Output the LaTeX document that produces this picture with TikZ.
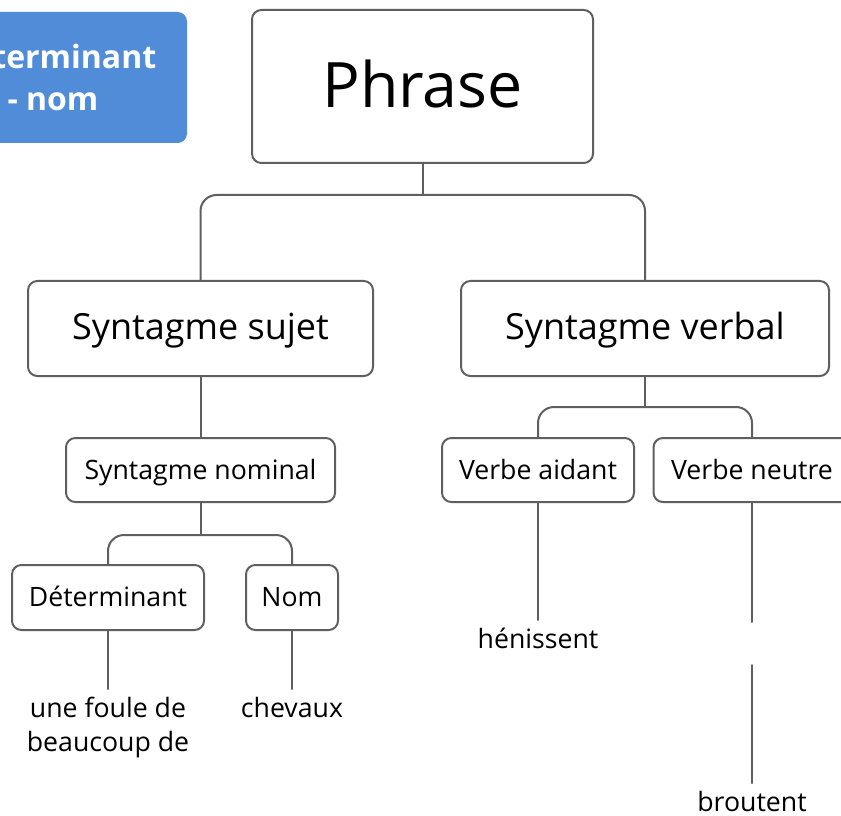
\documentclass[tikz,border=0pt]{standalone}
\usepackage{fontspec}
\setmainfont{Open Sans}
\definecolor{bleu}{RGB}{80,140,215}
\definecolor{trait}{RGB}{95,95,95}
\tikzset{
  boite/.style={draw=trait, line width=1.5pt, rounded corners=7pt, fill=white, inner sep=0pt},
  grand/.style={font=\fontsize{47}{56}\selectfont, text height=40pt, text depth=8pt},
  moyen/.style={font=\fontsize{27}{32}\selectfont, text height=20pt, text depth=2.8pt},
  petit/.style={font=\fontsize{20}{25}\selectfont},
  carre/.style={petit, text height=16pt, text depth=2.5pt},
  feuille/.style={petit, anchor=north, inner xsep=0pt, inner ysep=6pt, align=center},
  lien/.style={draw=trait, line width=1.5pt, rounded corners=12pt},
}
\begin{document}
\begin{tikzpicture}[x=0.75pt, y=-0.75pt, line join=round, line cap=round]
			\clip (0,0) rectangle (841,816);
			\path
			(0,195) coordinate (barA)
			(0,407) coordinate (barB)
			(0,535) coordinate (barC)
			(752,622) coordinate (coupeA)
			(752,665) coordinate (coupeB)
			;
			% legende
			\node[boite, draw=none, fill=bleu, text=white, align=center, minimum width=201pt, minimum height=98.25pt,
			font=\fontsize{24}{31.5}\bfseries\selectfont] (legende) at (53,77.5) {Déterminant\\- nom};
			% arbre
			\node[boite, grand, minimum width=255.75pt, minimum height=114.75pt] (phrase) at (422.5,86.5) {Phrase};
			\node[boite, moyen, minimum width=258.75pt, minimum height=71.25pt] (ssujet) at (200.5,328.5) {Syntagme sujet};
			\node[boite, moyen, minimum width=276pt, minimum height=71.25pt] (sverbal) at (645,328.5) {Syntagme verbal};
			\node[boite, carre, minimum width=201.75pt, minimum height=48pt] (snominal) at (200.5,470) {Syntagme nominal};
			\node[boite, carre, minimum width=144pt, minimum height=48pt] (vaidant) at (538,470) {Verbe aidant};
			\node[boite, carre, minimum width=147.75pt, minimum height=48pt] (vneutre) at (752,470) {Verbe neutre};
			\node[boite, carre, minimum width=144pt, minimum height=48.75pt] (deter) at (108,597.5) {Déterminant};
			\node[boite, carre, minimum width=69pt, minimum height=48.75pt] (nom) at (292,597.5) {Nom};
			% mots
			\node[feuille] (fdeter) at (108,689) {une foule de\\beaucoup de};
			\node[feuille] (fnom) at (292,689) {chevaux};
			\node[feuille] (faidant) at (538,620) {hénissent};
			\node[feuille] (fneutre) at (752,783) {broutent};
			% liens
			\draw[lien] (phrase.south) -- (phrase.south |- barA);
			\draw[lien] (ssujet.north) -- (ssujet.north |- barA) -- (sverbal.north |- barA) -- (sverbal.north);
			\draw[lien] (ssujet.south) -- (snominal.north);
			\draw[lien] (sverbal.south) -- (sverbal.south |- barB);
			\draw[lien] (vaidant.north) -- (vaidant.north |- barB) -- (vneutre.north |- barB) -- (vneutre.north);
			\draw[lien] (snominal.south) -- (snominal.south |- barC);
			\draw[lien] (deter.north) -- (deter.north |- barC) -- (nom.north |- barC) -- (nom.north);
			\draw[lien] (deter.south) -- (fdeter.north);
			\draw[lien] (nom.south) -- (fnom.north);
			\draw[lien] (vaidant.south) -- (faidant.north);
			\draw[lien] (vneutre.south) -- (coupeA);
			\draw[lien] (coupeB) -- (fneutre.north);
		\end{tikzpicture}
\end{document}
